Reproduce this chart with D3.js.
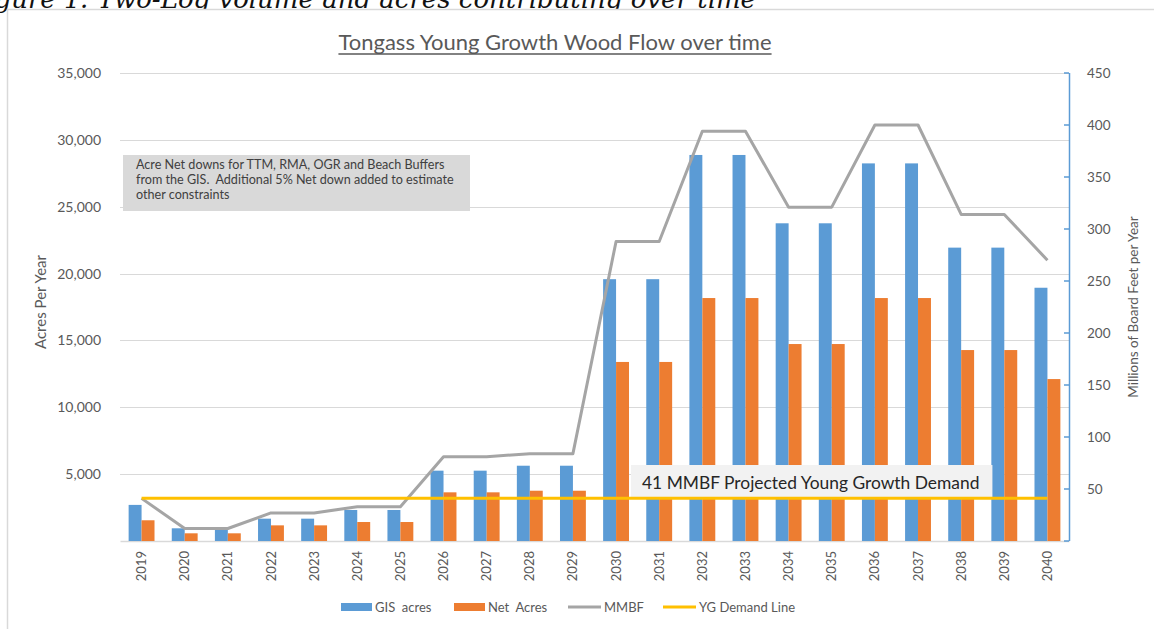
<!DOCTYPE html>
<html>
<head>
<meta charset="utf-8">
<script src="https://cdn.jsdelivr.net/npm/d3@7"></script>
<style>
  html, body { margin: 0; padding: 0; background: #fff; }
  svg { display: block; }
  text { font-family: Lato, "Open Sans", sans-serif; white-space: pre; }
</style>
</head>
<body>
<svg id="chart" width="1154" height="629"></svg>
<script>
// Harvest schedule by year
const years = ["2019","2020","2021","2022","2023","2024","2025","2026","2027","2028","2029",
               "2030","2031","2032","2033","2034","2035","2036","2037","2038","2039","2040"];
const gisAcres = [2700, 950, 950, 1670, 1670, 2320, 2320, 5260, 5260, 5630, 5630,
                  19580, 19580, 28870, 28870, 23760, 23760, 28240, 28240, 21940, 21940, 18940];
const netAcres = [1550, 575, 575, 1170, 1170, 1420, 1420, 3640, 3640, 3760, 3760,
                  13390, 13390, 18170, 18170, 14730, 14730, 18170, 18170, 14280, 14280, 12110];
const mmbf = [41, 12, 12, 27, 27, 33, 33, 81, 81, 84, 84,
              288, 288, 394, 394, 321, 321, 400, 400, 314, 314, 270];
const ygDemand = 41;
const leftTicks = [5000, 10000, 15000, 20000, 25000, 30000, 35000];
const rightTicks = [50, 100, 150, 200, 250, 300, 350, 400, 450];
const seriesNames = ["GIS  acres", "Net  Acres", "MMBF", "YG Demand Line"];
const noteLines = ["Acre Net downs for TTM, RMA, OGR and Beach Buffers",
                   "from the GIS.  Additional 5% Net down added to estimate",
                   "other constraints"];

const C = { blue: "#5B9BD5", orange: "#ED7D31", gray: "#A5A5A5", yellow: "#FFC000",
            grid: "#D9D9D9", text: "#595959" };

const svg = d3.select("#chart");

// Caption above the chart frame
svg.append("text")
  .attr("x", 756).attr("y", 8)
  .attr("text-anchor", "end")
  .style("font-family", "'DejaVu Serif', 'Liberation Serif', serif")
  .style("font-style", "italic")
  .style("font-size", "26px")
  .attr("fill", "#111")
  .text("Figure 1: Two-Log volume and acres contributing over time");

// Chart frame
svg.append("rect")
  .attr("x", 7.5).attr("y", 9.5).attr("width", 1160).attr("height", 640)
  .attr("fill", "#fff").attr("stroke", C.grid).attr("stroke-width", 1.5);

const plot = { left: 120, right: 1069, top: 73, bottom: 541 };

const x = d3.scaleBand().domain(years).range([plot.left, plot.right]).padding(0);
const groupW = x.bandwidth() * 0.6;
const xs = d3.scaleBand().domain(["gis", "net"]).range([0, groupW]).padding(0);
const yL = d3.scaleLinear().domain([0, 35000]).range([plot.bottom, plot.top]);
const yR = d3.scaleLinear().domain([0, 450]).range([plot.bottom, plot.top]);
const cx = d => x(d) + x.bandwidth() / 2;

// Title
const title = svg.append("text")
  .attr("x", 555).attr("y", 50)
  .attr("text-anchor", "middle")
  .style("font-size", "22px")
  .attr("fill", C.text)
  .text("Tongass Young Growth Wood Flow over time");
const tb = title.node().getBBox();
svg.append("line")
  .attr("x1", tb.x).attr("x2", tb.x + tb.width)
  .attr("y1", 54).attr("y2", 54)
  .attr("stroke", C.text).attr("stroke-width", 1.4);

// Left axis with gridlines
const leftAxis = svg.append("g")
  .attr("transform", `translate(${plot.left},0)`)
  .call(d3.axisLeft(yL).tickValues(leftTicks).tickSize(0).tickPadding(19)
        .tickFormat(d3.format(",")));
leftAxis.select(".domain").remove();
leftAxis.selectAll("text").style("font-size", "14px").attr("fill", C.text)
  .style("font-family", "Lato, sans-serif");

svg.append("g").selectAll("line").data(leftTicks).join("line")
  .attr("x1", plot.left).attr("x2", plot.right)
  .attr("y1", d => Math.round(yL(d)) + 0.5).attr("y2", d => Math.round(yL(d)) + 0.5)
  .attr("stroke", C.grid).attr("stroke-width", 1.2);

// Category axis
const xAxis = svg.append("g")
  .attr("transform", `translate(0,${plot.bottom})`)
  .call(d3.axisBottom(x).tickSize(0).tickPadding(0));
xAxis.select(".domain").attr("stroke", C.grid).attr("stroke-width", 1.5);
xAxis.selectAll("text")
  .style("font-size", "13px").attr("fill", C.text)
  .style("font-family", "Lato, sans-serif")
  .attr("transform", "rotate(-90)")
  .attr("text-anchor", "end")
  .attr("x", -10).attr("y", 0).attr("dy", "0.35em");

// Bars
const bars = svg.append("g");
years.forEach((yr, i) => {
  const g0 = cx(yr) - groupW / 2;
  bars.append("rect")
    .attr("x", g0 + xs("gis")).attr("width", xs.bandwidth())
    .attr("y", yL(gisAcres[i])).attr("height", yL(0) - yL(gisAcres[i]))
    .attr("fill", C.blue);
  bars.append("rect")
    .attr("x", g0 + xs("net")).attr("width", xs.bandwidth())
    .attr("y", yL(netAcres[i])).attr("height", yL(0) - yL(netAcres[i]))
    .attr("fill", C.orange);
});

// MMBF line
svg.append("path")
  .datum(mmbf)
  .attr("fill", "none").attr("stroke", C.gray).attr("stroke-width", 3)
  .attr("stroke-linejoin", "round")
  .attr("d", d3.line().x((d, i) => cx(years[i])).y(d => yR(d)));

// Demand label box
const boxG = svg.append("g");
const boxRect = boxG.append("rect").attr("fill", "#F2F2F2");
const boxText = boxG.append("text")
  .attr("x", 642).attr("y", 489)
  .style("font-size", "17.4px").attr("fill", "#262626")
  .text("41 MMBF Projected Young Growth Demand");
const bb = boxText.node().getBBox();
boxRect.attr("x", 631).attr("y", 465).attr("width", bb.width + 24).attr("height", 32);

// YG demand line
svg.append("path")
  .datum(years.map(() => ygDemand))
  .attr("fill", "none").attr("stroke", C.yellow).attr("stroke-width", 3)
  .attr("d", d3.line().x((d, i) => cx(years[i])).y(d => yR(d)));

// Right axis
const rightAxis = svg.append("g")
  .attr("transform", `translate(${plot.right},0)`)
  .call(d3.axisRight(yR).tickValues(rightTicks).tickSize(0).tickPadding(18));
rightAxis.select(".domain").remove();
rightAxis.selectAll("text").style("font-size", "13.5px").attr("fill", C.text)
  .style("font-family", "Lato, sans-serif");
svg.append("line")
  .attr("x1", plot.right + 0.5).attr("x2", plot.right + 0.5)
  .attr("y1", plot.top).attr("y2", plot.bottom)
  .attr("stroke", C.blue).attr("stroke-width", 1.5);
svg.append("g").selectAll("line").data([0].concat(rightTicks)).join("line")
  .attr("x1", plot.right - 5).attr("x2", plot.right)
  .attr("y1", d => yR(d)).attr("y2", d => yR(d))
  .attr("stroke", C.blue).attr("stroke-width", 1.5);

// Axis titles
svg.append("text")
  .attr("transform", "translate(46,302) rotate(-90)")
  .attr("text-anchor", "middle")
  .style("font-size", "15px").attr("fill", C.text)
  .text("Acres Per Year");
svg.append("text")
  .attr("transform", `translate(1138,${(plot.top + plot.bottom) / 2}) rotate(-90)`)
  .attr("text-anchor", "middle")
  .style("font-size", "13.5px").attr("fill", C.text)
  .text("Millions of Board Feet per Year");

// Note box
const noteG = svg.append("g");
noteG.append("rect").attr("x", 123).attr("y", 155).attr("width", 347).attr("height", 56)
  .attr("fill", "#D9D9D9");
noteG.selectAll("text").data(noteLines).join("text")
  .attr("x", 136).attr("y", (d, i) => 169 + i * 15)
  .style("font-size", "12.6px").attr("fill", "#404040")
  .text(d => d);

// Legend
const legendItems = [
  { name: seriesNames[0], color: C.blue, type: "rect", x: 341 },
  { name: seriesNames[1], color: C.orange, type: "rect", x: 454 },
  { name: seriesNames[2], color: C.gray, type: "line", x: 568 },
  { name: seriesNames[3], color: C.yellow, type: "line", x: 663 }
];
const legend = svg.append("g");
legendItems.forEach(it => {
  if (it.type === "rect") {
    legend.append("rect").attr("x", it.x).attr("y", 603).attr("width", 31).attr("height", 8)
      .attr("fill", it.color);
  } else {
    legend.append("line").attr("x1", it.x).attr("x2", it.x + 33)
      .attr("y1", 607).attr("y2", 607).attr("stroke", it.color).attr("stroke-width", 3);
  }
  legend.append("text")
    .attr("x", it.x + (it.type === "rect" ? 34 : 36)).attr("y", 611.5)
    .style("font-size", "13px").attr("fill", C.text)
    .text(it.name);
});
</script>
</body>
</html>
